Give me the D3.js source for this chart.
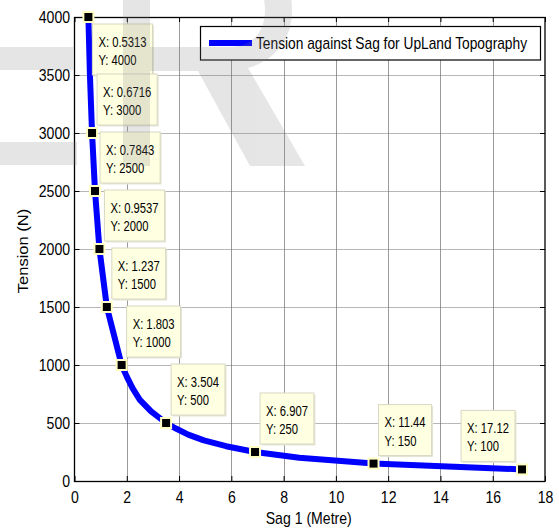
<!DOCTYPE html>
<html>
<head>
<meta charset="utf-8">
<script src="https://cdn.jsdelivr.net/npm/d3@7"></script>
<style>
  html, body { margin: 0; padding: 0; background: #ffffff; }
  svg { display: block; }
</style>
</head>
<body>
<svg id="chart" width="559" height="529"></svg>
<script>
// ---------------- data ----------------
// data-tip points
const sag = [0.5313, 0.6716, 0.7843, 0.9537, 1.237, 1.803, 3.504, 6.907, 11.44, 17.12];
const tension = [4000, 3000, 2500, 2000, 1500, 1000, 500, 250, 150, 100];
// points of the plotted curve (markers plus bends read between them)
const curveSag = [0.5313, 0.59, 0.6716, 0.7843, 0.9537, 1.237, 1.803, 2.0, 2.22, 2.5, 2.93, 3.504, 3.9, 4.35, 4.95, 5.8, 6.907, 8.6, 11.44, 17.12];
const curveTension = [4000, 3500, 3000, 2500, 2000, 1500, 1000, 900, 800, 700, 600, 500, 450, 400, 350, 300, 250, 200, 150, 100];
// axis ticks
const xTicks = [0, 2, 4, 6, 8, 10, 12, 14, 16, 18];
const yTicks = [0, 500, 1000, 1500, 2000, 2500, 3000, 3500, 4000];
const xDomain = [0, 18];
const yDomain = [0, 4000];
const legendLabel = "Tension against Sag for UpLand Topography";
const xTitle = "Sag 1 (Metre)";
const yTitle = "Tension (N)";

// ---------------- layout ----------------
const FONT = "'Liberation Sans', Arial, Helvetica, sans-serif";
const K = 0.88;          // horizontal squeeze of the original raster text
const plot = { left: 74.5, right: 545, top: 17, bottom: 481 };

const svg = d3.select("#chart");
const x = d3.scaleLinear().domain(xDomain).range([plot.left, plot.right]);
const y = d3.scaleLinear().domain(yDomain).range([plot.bottom, plot.top]);

// grid
const grid = svg.append("g");
grid.selectAll("line.vx").data(xTicks.filter(d => d > xDomain[0] && d < xDomain[1]))
  .join("line").attr("class", "vx")
  .attr("x1", d => Math.round(x(d)) + 0.5).attr("x2", d => Math.round(x(d)) + 0.5)
  .attr("y1", plot.top).attr("y2", plot.bottom)
  .attr("stroke", "#9a9a9a").attr("stroke-width", 1);
grid.selectAll("line.hy").data(yTicks.filter(d => d > yDomain[0] && d < yDomain[1]))
  .join("line").attr("class", "hy")
  .attr("x1", plot.left).attr("x2", plot.right)
  .attr("y1", d => Math.round(y(d)) + 0.5).attr("y2", d => Math.round(y(d)) + 0.5)
  .attr("stroke", "#6e6e6e").attr("stroke-width", 1).attr("stroke-dasharray", "1,1");

// axes (ticks inward, like MATLAB)
function styleAxis(g) {
  g.select(".domain").remove();
  g.attr("font-family", FONT).attr("font-size", 16);
  g.selectAll(".tick line").attr("stroke", "#000").attr("stroke-width", 1);
  g.selectAll(".tick text").attr("fill", "#000").attr("transform", `scale(${K},1)`);
}
svg.append("g").attr("transform", `translate(0,${plot.bottom})`)
  .call(d3.axisBottom(x).tickValues(xTicks).tickSize(-5).tickPadding(11).tickFormat(d3.format("d")))
  .call(styleAxis);
svg.append("g").attr("transform", `translate(${plot.left},0)`)
  .call(d3.axisLeft(y).tickValues(yTicks).tickSize(-5).tickPadding(5).tickFormat(d3.format("d")))
  .call(styleAxis)
  .call(g => g.selectAll(".tick text").attr("dy", "0.36em"));
svg.append("g").attr("transform", `translate(0,${plot.top})`)
  .call(d3.axisTop(x).tickValues(xTicks).tickSize(-5).tickFormat(""))
  .call(styleAxis);
svg.append("g").attr("transform", `translate(${plot.right},0)`)
  .call(d3.axisRight(y).tickValues(yTicks).tickSize(-5).tickFormat(""))
  .call(styleAxis);

// frame
svg.append("rect")
  .attr("x", plot.left).attr("y", plot.top + 0.5)
  .attr("width", plot.right - plot.left).attr("height", plot.bottom - plot.top)
  .attr("fill", "none").attr("stroke", "#000").attr("stroke-width", 1.3);

// curve
const curve = curveSag.map((s, i) => [s, curveTension[i]]);
svg.append("path").datum(curve)
  .attr("d", d3.line().x(d => x(d[0])).y(d => y(d[1])))
  .attr("fill", "none").attr("stroke", "#0000ff").attr("stroke-width", 6)
  .attr("stroke-linejoin", "round").attr("stroke-linecap", "butt");

// legend
const lg = svg.append("g");
lg.append("rect").attr("x", 200.5).attr("y", 26.5).attr("width", 340).attr("height", 33.5)
  .attr("fill", "#fff").attr("stroke", "#000").attr("stroke-width", 1.2);
lg.append("line").attr("x1", 209).attr("x2", 252).attr("y1", 43).attr("y2", 43)
  .attr("stroke", "#0000ff").attr("stroke-width", 6);
lg.append("g").attr("transform", "translate(256,48.5)")
  .append("text").attr("transform", "scale(0.86,1)")
  .attr("font-family", FONT).attr("font-size", 16).attr("fill", "#000")
  .text(legendLabel);

// axis titles
svg.append("g").attr("transform", `translate(${(plot.left + plot.right) / 2 - 1},524)`)
  .append("text").attr("transform", `scale(${K},1)`).attr("text-anchor", "middle")
  .attr("font-family", FONT).attr("font-size", 16).attr("fill", "#000").text(xTitle);
svg.append("g").attr("transform", `translate(28,251) scale(${K},1) rotate(-90)`)
  .append("text").attr("text-anchor", "middle")
  .attr("font-family", FONT).attr("font-size", 16.5).attr("fill", "#000").text(yTitle);

// data tips
const TK = 0.75, BOXH = 51;
const tips = svg.append("g");
sag.forEach((s, i) => {
  const px = x(s), py = y(tension[i]);
  const g = tips.append("g");
  const tg = g.append("g");
  const t1 = tg.append("text").attr("font-family", FONT).attr("font-size", 15).attr("fill", "#000")
    .attr("transform", `scale(${TK},1)`).text("X: " + s);
  const t2 = tg.append("text").attr("font-family", FONT).attr("font-size", 15).attr("fill", "#000")
    .attr("transform", `scale(${TK},1)`).attr("y", 18.5).text("Y: " + tension[i]);
  const w = Math.max(t1.node().getComputedTextLength(), t2.node().getComputedTextLength()) * TK + 12;
  let left, top;
  if (i === 0) { left = px + 4; top = py + 7; }
  else if (i === sag.length - 1) { left = px - 7 - w; top = py - 8 - BOXH; }
  else { left = px + 5; top = py - 8 - BOXH; }
  g.insert("rect", ":first-child")
    .attr("x", left + 1.5).attr("y", top + 1.5).attr("width", w).attr("height", BOXH)
    .attr("fill", "#e6e6d6");
  g.insert("rect", "g")
    .attr("x", left).attr("y", top).attr("width", w).attr("height", BOXH)
    .attr("fill", "#ffffe1").attr("stroke", "#d8d8c4").attr("stroke-width", 1);
  tg.attr("transform", `translate(${left + 6},${top + 22.5})`);
});

// markers
svg.append("g").selectAll("rect").data(sag.map((s, i) => [s, tension[i]]))
  .join("rect")
  .attr("x", d => x(d[0]) - 5).attr("y", d => y(d[1]) - 5)
  .attr("width", 10).attr("height", 10)
  .attr("fill", "#000").attr("stroke", "#ffffc4").attr("stroke-width", 2);

// faint page watermark lying over the figure
const wm = svg.append("g").attr("fill", "#808080").attr("opacity", 0.2).attr("pointer-events", "none");
wm.append("rect").attr("x", 0).attr("y", 47).attr("width", 73).attr("height", 23);
wm.append("rect").attr("x", 0).attr("y", 142).attr("width", 77).attr("height", 23);
wm.append("path").attr("fill-rule", "evenodd")
  .attr("d", "M123,-50 L235,-50 C275,-50 292,-25 292,10 C292,40 275,60 248,68 L305,166 L250,166 L198,71 L150,71 L150,166 L123,166 Z " +
             "M150,-26 L232,-26 C255,-26 265,-10 265,10 C265,32 252,47 230,47 L150,47 Z");
</script>
</body>
</html>
